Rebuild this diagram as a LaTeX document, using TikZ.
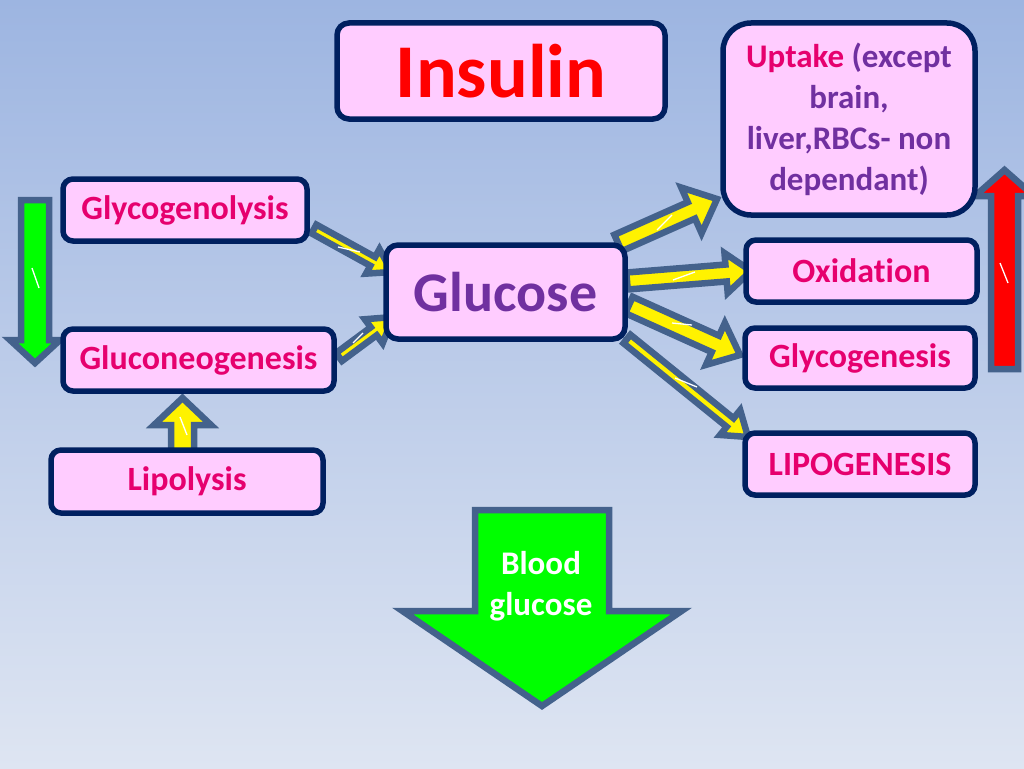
\documentclass[tikz,border=0pt]{standalone}
\usepackage{fontspec}
\setmainfont{Carlito}[Ligatures=NoCommon]
\usetikzlibrary{calc}
\definecolor{bgtop}{RGB}{157,181,225}
\definecolor{bgbot}{RGB}{222,229,242}
\definecolor{boxfill}{RGB}{255,204,255}
\definecolor{boxline}{RGB}{0,32,96}
\definecolor{arrline}{RGB}{68,98,140}
\definecolor{lbl}{RGB}{230,0,110}
\definecolor{purp}{RGB}{112,48,160}
\definecolor{bgreen}{RGB}{0,255,0}
\pgfdeclarelayer{bg}
\pgfsetlayers{bg,main}
% #1 fill, #2 start, #3 end, #4 shaft half width, #5 head half width, #6 head length
\newcommand{\blockarrow}[6]{%
  \path ($(#3)!#6!(#2)$) coordinate (bA);
  \draw[barrow, fill=#1] ($(#2)!#4!90:(#3)$) -- ($(bA)!#4!90:(#3)$) -- ($(bA)!#5!90:(#3)$) -- (#3)
     -- ($(bA)!#5!-90:(#3)$) -- ($(bA)!#4!-90:(#3)$) -- ($(#2)!#4!-90:(#3)$) -- cycle;
}
\begin{document}
\begin{tikzpicture}[x=1pt,y=-1pt,
  box/.style={draw=boxline, line width=5.5pt, fill=boxfill, rounded corners=10pt, inner sep=0pt,
    align=center, font=\bfseries\fontsize{34}{41}\selectfont, text=lbl},
  barrow/.style={draw=arrline, line width=6.5pt, line join=miter, miter limit=10},
  tick/.style={white, line width=1.3pt}]
\useasboundingbox (0,0) rectangle (1024,768);
\begin{pgfonlayer}{bg}
\shade[top color=bgtop, bottom color=bgbot] (0,0) rectangle (1024,768);
\end{pgfonlayer}

% boxes
\node[box, minimum width=328pt, minimum height=96pt, rounded corners=12pt, text=red,
  font=\bfseries\fontsize{76}{80}\selectfont] (insulin) at (501,71) {\raisebox{-3pt}{Insulin}};
\node[box, minimum width=252pt, minimum height=192pt, rounded corners=28pt, text=purp,
  font=\bfseries\fontsize{33}{41}\selectfont] (uptake) at (849,119)
  {\textcolor{lbl}{Uptake} (except\\brain,\\liver,RBCs- non\\dependant)};
\node[box, minimum width=244pt, minimum height=62pt] (glycogenolysis) at (185,210) {Glycogenolysis};
\node[box, minimum width=239pt, minimum height=94pt, rounded corners=12pt, text=purp,
  font=\bfseries\fontsize{56}{60}\selectfont] (glucose) at (505.5,292) {Glucose};
\node[box, minimum width=271pt, minimum height=62pt] (gluconeo) at (198.5,360) {Gluconeogenesis};
\node[box, minimum width=272pt, minimum height=63pt] (lipolysis) at (187,481.5) {Lipolysis};
\node[box, minimum width=231pt, minimum height=62pt] (oxidation) at (861.5,271) {Oxidation};
\node[box, minimum width=230pt, minimum height=60pt] (glycogenesis) at (860,358) {Glycogenesis};
\node[box, minimum width=230pt, minimum height=62pt] (lipogenesis) at (860,464) {LIPOGENESIS};

% connector end points
\coordinate (g1s) at (35,200);    \coordinate (g1e) at (35,363);
\coordinate (r1s) at (1004.5,369); \coordinate (r1e) at (1004.5,170);
\coordinate (l1s) at (182.5,455); \coordinate (l1e) at (182.5,398);
\coordinate (b1s) at (542,510);   \coordinate (b1e) at (542,706);
\coordinate (a1s) at (314,229);   \coordinate (a1e) at (392,272);
\coordinate (a2s) at (339,357);   \coordinate (a2e) at (393,317);
\coordinate (a3s) at (618,243);   \coordinate (a3e) at (717,199);
\coordinate (a4s) at (627,281);   \coordinate (a4e) at (751,271);
\coordinate (a5s) at (629,305);   \coordinate (a5e) at (740,355);
\coordinate (a6s) at (627,339);   \coordinate (a6e) at (748,437);

\begin{pgfonlayer}{bg}
\blockarrow{bgreen}{g1s}{g1e}{14pt}{25pt}{23pt}
\blockarrow{red}{r1s}{r1e}{13.5pt}{29.5pt}{26pt}
\blockarrow{yellow}{l1s}{l1e}{11.5pt}{28.5pt}{27pt}
\blockarrow{bgreen}{b1s}{b1e}{67pt}{139.5pt}{95pt}
\blockarrow{yellow}{a1s}{a1e}{5pt}{14pt}{22pt}
\blockarrow{yellow}{a2s}{a2e}{5pt}{15pt}{24pt}
\blockarrow{yellow}{a3s}{a3e}{9pt}{25pt}{28pt}
\blockarrow{yellow}{a4s}{a4e}{8.5pt}{20pt}{25pt}
\blockarrow{yellow}{a5s}{a5e}{9pt}{23pt}{27pt}
\blockarrow{yellow}{a6s}{a6e}{5.5pt}{16pt}{23pt}
% small white marks
\draw[tick] (32,268) -- (39,288);
\draw[tick] (1000,263) -- (1008,283);
\draw[tick] (180,417) -- (187,435);
\draw[tick] (338,247) -- (360,252);
\draw[tick] (353,343) -- (363,333);
\draw[tick] (657,230) -- (672,215);
\draw[tick] (673,280) -- (695,272);
\draw[tick] (672,323) -- (692,325);
\draw[tick] (675,378) -- (697,387);
\end{pgfonlayer}

\node[text=white, align=center, font=\bfseries\fontsize{33}{41}\selectfont] (blood) at (541,586) {Blood\\glucose};
\end{tikzpicture}
\end{document}
